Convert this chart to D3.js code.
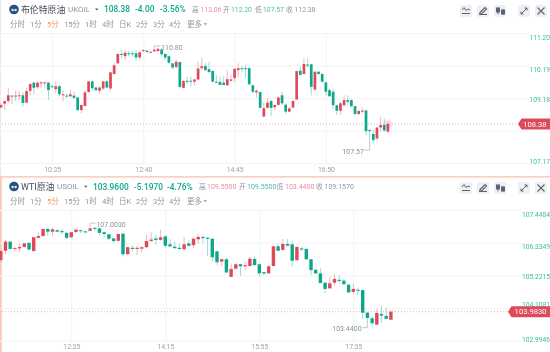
<!DOCTYPE html>
<html>
<head>
<meta charset="utf-8">
<script src="https://cdn.jsdelivr.net/npm/d3@7"></script>
<style>
  html, body { margin: 0; padding: 0; background: #fff; }
  svg { display: block; filter: blur(0.4px); font-family: Roboto, "Noto Sans CJK SC", sans-serif; }
  .domain { display: none; }
</style>
</head>
<body>
<div id="chart"></div>
<script>
// UKOIL 5 minute candles
var brentOpen = [
  108.89,109.01,109.09,109.26,109.24,109.24,109.27,109.04,109.41,109.66,
  109.52,109.65,109.65,109.66,109.55,109.46,109.55,109.27,109.26,109.24,
  109.26,109.20,108.81,108.94,109.37,109.70,109.51,109.41,109.48,109.70,
  109.48,109.93,110.26,110.55,110.48,110.57,110.57,110.57,110.44,110.64,
  110.65,110.60,110.63,110.64,110.69,110.55,110.48,110.26,110.15,110.30,
  109.50,109.72,109.72,109.69,109.76,110.11,110.18,110.08,110.02,109.69,
  109.68,109.66,109.58,109.72,109.80,110.05,110.11,110.11,110.11,109.58,
  109.36,109.37,108.61,108.88,109.09,108.90,108.97,109.27,108.98,108.76,
  108.89,109.14,110.03,109.93,110.22,110.23,109.45,110.00,109.93,109.67,
  109.43,109.38,108.96,108.79,108.96,109.12,109.12,108.93,108.69,108.77,
  108.80,108.19,108.07,107.93,108.27,108.35,108.14];
var brentClose = [
  108.97,109.09,109.27,109.24,109.26,109.27,109.03,109.40,109.62,109.50,
  109.66,109.67,109.67,109.43,109.53,109.55,109.30,109.30,109.24,109.30,
  109.19,108.81,108.97,109.36,109.70,109.49,109.43,109.51,109.70,109.51,
  109.98,110.20,110.55,110.52,110.59,110.54,110.55,110.44,110.60,110.67,
  110.61,110.62,110.68,110.71,110.54,110.44,110.28,110.13,110.31,109.53,
  109.71,109.69,109.69,109.76,110.10,110.17,110.05,109.99,109.69,109.67,
  109.59,109.59,109.77,109.76,110.09,110.11,110.08,110.09,109.61,109.38,
  109.41,108.88,108.87,109.04,108.88,108.97,109.20,109.02,108.76,108.86,
  109.09,110.02,109.90,110.24,110.19,109.53,110.00,109.93,109.69,109.38,
  109.24,108.96,108.79,109.02,109.12,109.07,108.93,108.69,108.78,108.79,
  108.16,108.16,107.88,108.27,108.35,108.18,108.38];
var brentHigh = [
  109.02,109.12,109.50,109.27,109.40,109.41,109.37,109.50,109.64,109.69,
  109.71,109.71,109.69,109.68,109.59,109.69,109.59,109.43,109.33,109.45,
  109.38,109.22,108.98,109.43,109.72,109.72,109.52,109.56,109.71,109.74,
  110.00,110.26,110.57,110.67,110.67,110.65,110.65,110.67,110.65,110.69,
  110.67,110.63,110.80,110.75,110.73,110.57,110.50,110.27,110.36,110.31,
  109.74,109.84,109.84,109.77,110.31,110.44,110.26,110.31,110.05,109.90,
  109.86,109.86,110.05,109.90,110.10,110.26,110.17,110.20,110.13,109.60,
  109.45,109.38,109.05,109.17,109.12,108.98,109.24,109.38,109.02,108.91,
  109.12,110.03,110.15,110.41,110.42,110.24,110.02,110.02,109.97,109.68,
  109.48,109.45,108.98,109.07,109.27,109.27,109.14,108.95,108.83,108.89,
  108.81,108.23,108.19,108.28,108.60,108.55,108.45];
var brentLow = [
  108.86,108.81,109.03,109.00,109.09,109.12,108.91,109.02,109.27,109.30,
  109.46,109.51,109.51,109.12,109.51,109.33,109.22,109.09,109.20,109.20,
  109.17,108.79,108.71,108.91,109.35,109.43,109.38,109.31,109.43,109.48,
  109.43,109.90,110.24,110.41,110.36,110.48,110.46,110.34,110.36,110.61,
  110.59,110.59,110.61,110.61,110.51,110.36,110.24,110.09,110.09,109.50,
  109.48,109.61,109.55,109.58,109.74,110.05,110.00,109.95,109.67,109.64,
  109.58,109.58,109.56,109.69,109.67,109.84,110.00,109.82,109.58,109.33,
  109.20,108.86,108.59,108.86,108.62,108.81,108.96,108.96,108.69,108.74,
  108.86,109.12,109.89,109.92,110.14,109.27,109.38,109.90,109.67,109.27,
  109.22,108.83,108.66,108.66,108.91,108.96,108.91,108.66,108.66,108.71,
  108.03,107.57,107.80,107.90,108.14,108.14,108.09];
var brentAxis = [111.20, 110.19, 109.18, 108.17, 107.17];
var brentTimes = [[14, "10:35"], [39, "12:40"], [64, "14:45"], [89, "16:50"]];

// USOIL 5 minute candles
var wtiOpen = [
  105.74,106.06,106.37,106.13,106.14,106.19,106.33,106.05,106.50,106.56,
  106.80,106.71,106.76,106.73,106.67,106.52,106.70,106.76,106.72,106.74,
  106.84,106.82,106.69,106.62,106.48,106.40,106.64,105.94,106.16,106.12,
  106.13,106.18,106.39,106.48,106.43,106.55,106.28,106.20,106.16,106.11,
  106.31,106.25,106.45,106.53,106.50,106.47,106.04,105.69,105.77,105.17,
  105.45,105.60,105.53,105.54,105.78,105.60,105.33,105.29,105.54,106.21,
  106.09,106.29,106.28,105.74,106.14,106.12,105.77,105.41,105.29,104.97,
  104.78,104.97,105.07,105.04,104.90,104.66,104.73,104.72,103.95,103.76,
  103.54,103.91,103.84,103.71];
var wtiClose = [
  106.05,106.37,106.12,106.15,106.19,106.31,106.10,106.52,106.56,106.80,
  106.71,106.79,106.71,106.69,106.50,106.69,106.78,106.73,106.70,106.82,
  106.82,106.67,106.63,106.47,106.39,106.63,105.94,106.18,106.12,106.16,
  106.18,106.39,106.44,106.43,106.52,106.23,106.21,106.15,106.12,106.28,
  106.23,106.47,106.53,106.49,106.47,105.84,105.67,105.77,105.32,105.44,
  105.60,105.53,105.57,105.79,105.57,105.29,105.28,105.53,106.21,106.06,
  106.29,106.23,105.72,106.19,106.10,105.77,105.40,105.29,104.96,104.76,
  104.95,105.10,105.03,104.92,104.64,104.76,104.70,103.95,103.77,103.59,
  103.94,103.85,103.74,103.983];
var wtiHigh = [
  106.09,106.43,106.39,106.20,106.31,106.33,106.35,106.54,106.69,106.82,
  106.87,106.85,106.79,106.80,106.71,106.71,106.81,106.77,106.74,107.003,
  106.87,106.86,106.71,106.64,106.49,106.65,106.66,106.20,106.25,106.23,
  106.20,106.60,106.69,106.60,106.77,106.57,106.46,106.37,106.31,106.52,
  106.41,106.52,106.65,106.57,106.55,106.49,106.06,105.80,105.82,105.63,
  105.65,105.62,105.69,105.86,105.89,105.62,105.34,105.55,106.23,106.31,
  106.46,106.46,106.39,106.20,106.20,106.16,105.78,105.46,105.46,105.00,
  105.18,105.26,105.23,105.10,104.95,104.95,104.81,104.73,103.98,103.81,
  104.07,104.19,104.12,104.03];
var wtiLow = [
  105.68,105.94,106.11,106.03,106.03,106.16,106.07,106.03,106.48,106.54,
  106.57,106.57,106.69,106.63,106.46,106.48,106.66,106.66,106.67,106.73,
  106.73,106.57,106.52,106.43,106.32,106.37,105.86,105.91,106.05,105.91,
  105.99,106.15,106.38,106.28,106.40,106.16,106.16,106.12,106.10,106.09,
  106.21,106.14,106.31,106.31,105.89,105.69,105.57,105.54,105.31,105.16,
  105.40,105.21,105.40,105.52,105.55,105.19,105.26,105.27,105.52,106.05,
  106.06,106.22,105.52,105.72,106.06,105.74,105.23,105.27,104.95,104.61,
  104.76,104.87,104.95,104.89,104.62,104.59,104.55,103.73,103.44,103.55,
  103.53,103.59,103.73,103.69];
var wtiAxis = [107.4484, 106.3349, 105.2215, 104.1081, 102.9946];
var wtiTimes = [[15, "12:35"], [35, "14:15"], [55, "15:55"], [75, "17:35"]];

var frames = ["分时", "1分", "5分", "15分", "1时", "4时", "日K", "2分", "3分", "4分", "更多"];
var frameX = [10, 30, 47, 64, 85, 102, 119, 136, 153, 169, 187];

var colRed = "#df4a5a", colGreen = "#0da88b", colGrey = "#8f95a1", colAxis = "#35bfa3";

var width = 550, height = 352;
var svg = d3.select("#chart").append("svg")
  .attr("width", width)
  .attr("height", height);

// header row: each piece is [x, text, colour, size, weight]
function header(y, pieces) {
  svg.append("g").selectAll("text")
    .data(pieces)
    .enter().append("text")
      .attr("x", function(d) { return d[0]; })
      .attr("y", y)
      .attr("dy", "0.35em")
      .attr("fill", function(d) { return d[2]; })
      .attr("font-size", function(d) { return d[3]; })
      .attr("font-weight", function(d) { return d[4] || 400; })
      .text(function(d) { return d[1]; });
}

function caret(x, y, col) {
  svg.append("path")
    .attr("d", "M" + x + "," + y + "l3.6,0l-1.8,2z")
    .attr("fill", col);
}

// logo, time frame row and the little tool buttons
function chrome(dy) {
  svg.append("circle").attr("cx", 14).attr("cy", 9.5 + dy).attr("r", 4.8).attr("fill", "#25517f");
  svg.append("circle").attr("cx", 12.6).attr("cy", 10 + dy).attr("r", 1.2).attr("fill", "#dfe8f0");
  svg.append("circle").attr("cx", 15.6).attr("cy", 10 + dy).attr("r", 1.2).attr("fill", "#dfe8f0");

  svg.append("g").selectAll("text")
    .data(frames)
    .enter().append("text")
      .attr("x", function(d, i) { return frameX[i]; })
      .attr("y", 24 + dy)
      .attr("dy", "0.35em")
      .attr("font-size", 7.5)
      .attr("fill", function(d) { return d == "5分" ? "#f4946a" : colGrey; })
      .text(function(d) { return d; });
  caret(203.5, 23.2 + dy, colGrey);

  var btnX = [460, 477, 494, 518, 535];
  svg.append("g").selectAll("rect")
    .data(btnX)
    .enter().append("rect")
      .attr("x", function(d) { return d; })
      .attr("y", 5 + dy)
      .attr("width", 12)
      .attr("height", 12)
      .attr("rx", 1.5)
      .attr("fill", "#eef0f4");

  var ic = "#5d6573";
  var g = svg.append("g")
    .attr("transform", "translate(0," + dy + ")")
    .attr("fill", "none")
    .attr("stroke", ic)
    .attr("stroke-width", 1);
  g.append("path").attr("d", "M462,10l2,-2.5l2,3l2,-1.5l2,1M462,13.5h8");
  g.append("path").attr("d", "M480,12.5l5,-5l1.5,1.5l-5,5h-1.5zM479,14.5h8").attr("stroke-width", 1.2);
  g.append("path").attr("d", "M498,7.5v7M503,9v6").attr("stroke-width", 0.8);
  g.append("rect").attr("x", 496.5).attr("y", 8).attr("width", 3).attr("height", 4).attr("fill", ic);
  g.append("rect").attr("x", 501.5).attr("y", 10).attr("width", 3).attr("height", 4).attr("fill", ic);
  g.append("path").attr("d", "M521,14l6,-6M524.5,8h2.5v2.5M521,11.5v2.5h2.5");
  g.append("path").attr("d", "M537.5,7.5l7,7M544.5,7.5l-7,7").attr("stroke-width", 1.1);
}

// one candlestick panel
function panel(o) {
  var n = o.open.length;
  var x = d3.scaleLinear().domain([o.xRef[0], o.xRef[1]]).range([o.xRef[2], o.xRef[3]]);
  var y = d3.scaleLinear().domain([o.yRef[0], o.yRef[1]]).range([o.yRef[2], o.yRef[3]]);
  var last = o.close[n - 1];

  // grid + price labels (a label the price tag covers is left out)
  var yAxis = svg.append("g")
    .attr("transform", "translate(" + o.gridEnd + ",0)")
    .call(d3.axisRight(y).tickValues(o.ticks).tickSize(-o.gridEnd).tickFormat(function(d) {
      return d == o.hiddenTick ? "" : d.toFixed(o.digits);
    }));
  yAxis.selectAll("line").attr("stroke", "#f3f3f6");
  yAxis.selectAll("text")
    .attr("x", width - o.gridEnd)
    .attr("dy", function(d, i) { return (o.labelShift[i] + 2.3) + "px"; })
    .attr("text-anchor", "end")
    .attr("font-family", "Roboto, sans-serif")
    .attr("font-size", 6.7)
    .attr("fill", colAxis);

  // time labels + vertical grid
  var xAxis = svg.append("g")
    .attr("transform", "translate(0," + o.axisY + ")")
    .call(d3.axisBottom(x)
      .tickValues(o.times.map(function(d) { return d[0]; }))
      .tickSize(o.yRef[2] - o.axisY)
      .tickFormat(function(d) { return o.times.filter(function(t) { return t[0] == d; })[0][1]; }));
  xAxis.selectAll("line").attr("stroke", "#f3f3f6");
  xAxis.selectAll("text")
    .attr("y", o.timeY - o.axisY)
    .attr("dy", "0.35em")
    .attr("font-family", "Roboto, sans-serif")
    .attr("font-size", 6.8)
    .attr("fill", "#9a9fa9");

  // last price dotted line
  svg.append("line")
    .attr("x1", 2).attr("x2", o.tagX)
    .attr("y1", y(last)).attr("y2", y(last))
    .attr("stroke", "#f3a9b2")
    .attr("stroke-dasharray", "1,2");

  var idx = d3.range(n);
  function col(i) { return o.close[i] >= o.open[i] ? colRed : colGreen; }

  svg.append("g").selectAll("line")
    .data(idx)
    .enter().append("line")
      .attr("x1", function(i) { return x(i); })
      .attr("x2", function(i) { return x(i); })
      .attr("y1", function(i) { return y(o.high[i]); })
      .attr("y2", function(i) { return y(o.low[i]); })
      .attr("stroke", col)
      .attr("stroke-opacity", 0.45)
      .attr("stroke-width", 0.9);

  svg.append("g").selectAll("rect")
    .data(idx)
    .enter().append("rect")
      .attr("x", function(i) { return x(i) - o.bodyW / 2; })
      .attr("y", function(i) { return y(Math.max(o.open[i], o.close[i])); })
      .attr("width", o.bodyW)
      .attr("height", function(i) { return Math.max(1, Math.abs(y(o.open[i]) - y(o.close[i]))); })
      .attr("fill", col);

  // high / low notes
  o.notes.forEach(function(m) {
    var px = x(m.i), py = y(m.price);
    var dir = m.side;
    svg.append("path")
      .attr("d", "M" + px + "," + py + "h" + (dir * m.len))
      .attr("fill", "none")
      .attr("stroke", "#b5b9c2")
      .attr("stroke-width", 0.8);
    svg.append("text")
      .attr("x", px + dir * (m.len + 0.8))
      .attr("y", py + 1.2)
      .attr("dy", "0.35em")
      .attr("text-anchor", dir > 0 ? "start" : "end")
      .attr("font-size", 7)
      .attr("fill", "#8b909b")
      .text(m.price.toFixed(o.digits));
  });

  // price tag on the right
  var ty = y(last);
  svg.append("path")
    .attr("d", "M" + o.tagX + "," + ty + "l3.5,-5.5H550v11H" + (o.tagX + 3.5) + "z")
    .attr("fill", colRed);
  svg.append("text")
    .attr("x", 546.5)
    .attr("y", ty)
    .attr("dy", "0.35em")
    .attr("text-anchor", "end")
    .attr("font-family", "Roboto, sans-serif")
    .attr("font-size", 7.6)
    .attr("fill", "#fff")
    .text(last.toFixed(o.digits));

  if (o.pulse) {
    svg.append("circle")
      .attr("cx", x(n - 1)).attr("cy", y(last))
      .attr("r", 4.5)
      .attr("fill", colRed)
      .attr("fill-opacity", 0.14);
  }
}

// panel frames
svg.append("rect").attr("x", 0).attr("y", 0).attr("width", 1).attr("height", 176).attr("fill", "#e9e9f2");
svg.append("rect").attr("x", 0).attr("y", 176.3).attr("width", 550).attr("height", 1.2).attr("fill", "#f9bda9");
svg.append("rect").attr("x", 0).attr("y", 176.3).attr("width", 1.8).attr("height", 176).attr("fill", "#f9c8b9");

// top panel
header(9.4, [
  [21, "布伦特原油", "#474d59", 8.9],
  [68, "UKOIL", colGrey, 8],
  [104, "108.38", colGreen, 8.4, 500],
  [135, "-4.00", colGreen, 8.4, 500],
  [160, "-3.56%", colGreen, 8.4, 500],
  [192, "高", colGrey, 6.8],
  [200.5, "113.06", "#ee8d97", 6.8],
  [223, "开", colGrey, 6.8],
  [231, "112.20", "#4cc0a8", 6.8],
  [255, "低", colGrey, 6.8],
  [263, "107.57", "#4cc0a8", 6.8],
  [286, "收", colGrey, 6.8],
  [294.5, "112.38", colGrey, 6.8]
]);
caret(95, 8.6, "#555b66");
chrome(0);
panel({
  open: brentOpen, close: brentClose, high: brentHigh, low: brentLow,
  ticks: brentAxis, digits: 2, times: brentTimes, hiddenTick: 108.17,
  xRef: [14, 89, 52.1, 325.85],
  yRef: [111.20, 107.17, 33, 163],
  gridEnd: 530, axisY: 163, timeY: 169.5, tagX: 518, bodyW: 2.7,
  labelShift: [3.7, 3.7, 1, 0, -2],
  notes: [{i: 42, price: 110.80, side: 1, len: 6}, {i: 101, price: 107.57, side: -1, len: 5}],
  pulse: true
});

// bottom panel
header(186.6, [
  [21, "WTI原油", "#474d59", 8.9],
  [57, "USOIL", colGrey, 8],
  [93, "103.9600", colGreen, 8.4, 500],
  [134, "-5.1970", colGreen, 8.4, 500],
  [167, "-4.76%", colGreen, 8.4, 500],
  [199, "高", colGrey, 6.8],
  [207, "109.5500", "#ee8d97", 7],
  [239, "开", colGrey, 6.8],
  [247, "109.5500", "#4cc0a8", 7],
  [276.5, "低", colGrey, 6.8],
  [285, "103.4400", "#ee8d97", 7],
  [316, "收", colGrey, 6.8],
  [324.5, "109.1570", colGrey, 7]
]);
caret(84, 185.8, "#555b66");
chrome(177);
panel({
  open: wtiOpen, close: wtiClose, high: wtiHigh, low: wtiLow,
  ticks: wtiAxis, digits: 4, times: wtiTimes,
  xRef: [15, 75, 71.3, 353.3],
  yRef: [107.4484, 102.9946, 210, 340.7],
  gridEnd: 522, axisY: 341, timeY: 347, tagX: 508, bodyW: 3.4,
  labelShift: [4, 3.3, 0.7, -3.7, -1.7],
  notes: [{i: 19, price: 107.0030, side: 1, len: 5.5}, {i: 78, price: 103.4400, side: -1, len: 5}],
  pulse: false
});
</script>
</body>
</html>
